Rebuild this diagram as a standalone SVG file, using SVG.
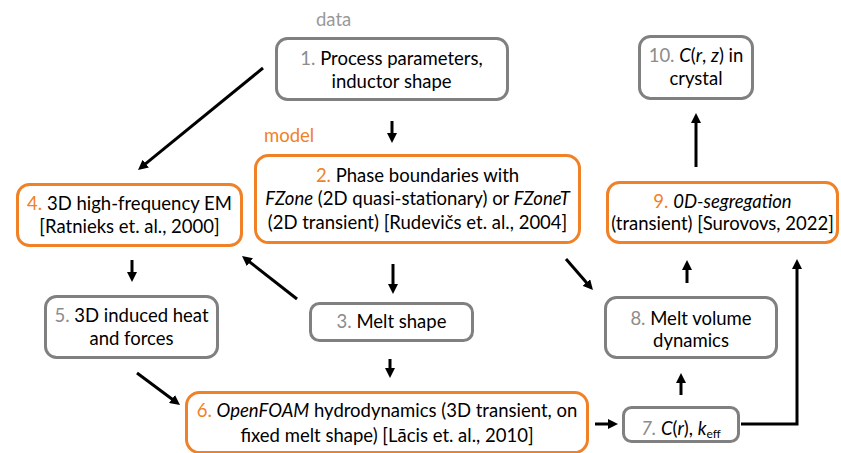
<svg xmlns="http://www.w3.org/2000/svg" width="841" height="453" viewBox="0 0 841 453">
  <style>
    text { font-family: Lato, "Open Sans", sans-serif; font-size: 18.5px; fill: #000; text-anchor: middle; }
    .box { fill: #fff; stroke-width: 3; }
    .gray { stroke: #808080; }
    .orange { stroke: #F08127; }
    .ng { fill: #8C8C8C; }
    .no { fill: #F08127; }
    .it { font-style: italic; }
    .label-gray { fill: #999; text-anchor: start; }
    .label-orange { fill: #F08127; text-anchor: start; }
    .conn { fill: none; stroke: #000; stroke-width: 3; marker-end: url(#arrow); }
  </style>
  <defs>
    <marker id="arrow" markerUnits="userSpaceOnUse" markerWidth="10" markerHeight="10" viewBox="0 0 10 10" refX="2" refY="5" orient="auto">
      <path d="M0,0 L10,5 L0,10 z" fill="#000"/>
    </marker>
  </defs>

  <!-- section labels -->
  <text class="label-gray" x="316" y="26">data</text>
  <text class="label-orange" x="264" y="142">model</text>

  <!-- connectors -->
  <g id="connectors">
    <line class="conn" x1="263" y1="68" x2="144.2" y2="164.9"/>
    <line class="conn" x1="392" y1="121" x2="392" y2="135"/>
    <line class="conn" x1="393" y1="264" x2="393" y2="286"/>
    <line class="conn" x1="297" y1="299" x2="248.3" y2="260.9"/>
    <line class="conn" x1="566" y1="259" x2="587.7" y2="284"/>
    <line class="conn" x1="132" y1="260" x2="132" y2="274"/>
    <line class="conn" x1="137" y1="373" x2="173.6" y2="400.2"/>
    <line class="conn" x1="390" y1="359" x2="390" y2="370"/>
    <line class="conn" x1="595" y1="424" x2="610" y2="424"/>
    <line class="conn" x1="681" y1="395" x2="681" y2="381"/>
    <line class="conn" x1="687" y1="283" x2="687" y2="268"/>
    <line class="conn" x1="696" y1="167" x2="696" y2="121"/>
    <polyline class="conn" points="741,424 797,424 797,267"/>
  </g>

  <!-- 1 -->
  <g id="node1">
    <rect class="box gray" x="276.5" y="38.5" width="231" height="61" rx="11"/>
    <text x="391.5" y="65"><tspan class="ng">1.</tspan> Process parameters,</text>
    <text x="391.5" y="88">inductor shape</text>
  </g>

  <!-- 2 -->
  <g id="node2">
    <rect class="box orange" x="255.5" y="155.5" width="324" height="87" rx="13"/>
    <text x="417.5" y="182"><tspan class="no">2.</tspan> Phase boundaries with</text>
    <text x="417.5" y="205"><tspan class="it">FZone</tspan> (2D quasi-stationary) or <tspan class="it">FZoneT</tspan></text>
    <text x="417.5" y="229">(2D transient) [Rudevičs et. al., 2004]</text>
  </g>

  <!-- 3 -->
  <g id="node3">
    <rect class="box gray" x="310.5" y="303.5" width="162" height="37" rx="9"/>
    <text x="391.5" y="328"><tspan class="ng">3.</tspan> Melt shape</text>
  </g>

  <!-- 4 -->
  <g id="node4">
    <rect class="box orange" x="17.5" y="184.5" width="224" height="61" rx="12"/>
    <text x="129.5" y="210"><tspan class="no">4.</tspan> 3D high-frequency EM</text>
    <text x="129.5" y="233">[Ratnieks et. al., 2000]</text>
  </g>

  <!-- 5 -->
  <g id="node5">
    <rect class="box gray" x="45.5" y="296.5" width="172" height="61" rx="11"/>
    <text x="131.5" y="322"><tspan class="ng">5.</tspan> 3D induced heat</text>
    <text x="131.5" y="345">and forces</text>
  </g>

  <!-- 6 -->
  <g id="node6">
    <rect class="box orange" x="186.5" y="392.5" width="401" height="60" rx="13"/>
    <text x="387" y="417"><tspan class="no">6.</tspan> <tspan class="it">OpenFOAM</tspan> hydrodynamics (3D transient, on</text>
    <text x="387" y="442">fixed melt shape) [Lācis et. al., 2010]</text>
  </g>

  <!-- 7 -->
  <g id="node7">
    <rect class="box gray" x="623.5" y="407.5" width="115" height="34" rx="8"/>
    <text x="681" y="435"><tspan class="ng it">7.</tspan> <tspan class="it">C</tspan>(<tspan class="it">r</tspan>), <tspan class="it">k</tspan><tspan font-size="12" dy="3">eff</tspan></text>
  </g>

  <!-- 8 -->
  <g id="node8">
    <rect class="box gray" x="605.5" y="297.5" width="171" height="60" rx="11"/>
    <text x="691" y="325"><tspan class="ng">8.</tspan> Melt volume</text>
    <text x="691" y="347">dynamics</text>
  </g>

  <!-- 9 -->
  <g id="node9">
    <rect class="box orange" x="607.5" y="182.5" width="230" height="60" rx="12"/>
    <text x="722.5" y="208"><tspan class="no">9.</tspan> <tspan class="it">0D-segregation</tspan></text>
    <text x="722.5" y="230">(transient) [Surovovs, 2022]</text>
  </g>

  <!-- 10 -->
  <g id="node10">
    <rect class="box gray" x="639.5" y="36.5" width="113" height="62" rx="11"/>
    <text x="696" y="62"><tspan class="ng">10.</tspan> <tspan class="it">C</tspan>(<tspan class="it">r</tspan>, <tspan class="it">z</tspan>) in</text>
    <text x="696" y="85">crystal</text>
  </g>
</svg>
